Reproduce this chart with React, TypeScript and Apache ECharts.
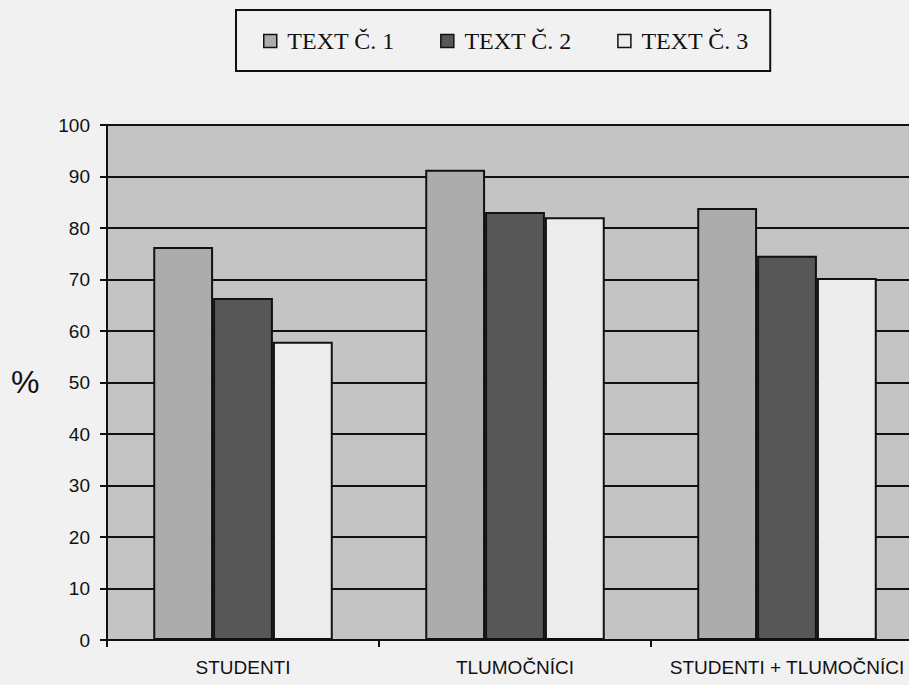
import React, { useEffect, useRef } from "react";
import * as echarts from "echarts";

const categories = ["STUDENTI", "TLUMOČNÍCI", "STUDENTI + TLUMOČNÍCI"];
const seriesNames = ["TEXT Č. 1", "TEXT Č. 2", "TEXT Č. 3"];
const text1 = [76.3, 91.3, 83.9];
const text2 = [66.4, 83.1, 74.6];
const text3 = [57.9, 82.1, 70.3];
const colors = ["#acacac", "#575757", "#ececec"];

export default function App() {
  const ref = useRef<HTMLDivElement>(null);
  useEffect(() => {
    if (!ref.current) return;
    const chart = echarts.init(ref.current, undefined, { renderer: "svg" });
    const data = [text1, text2, text3];
    chart.setOption({
      animation: false,
      backgroundColor: "#f1f1f1",
      legend: {
        left: 236,
        top: 10,
        padding: [19, 21, 18, 27],
        borderColor: "#111",
        borderWidth: 2,
        itemWidth: 13,
        itemHeight: 13,
        itemGap: 45,
        icon: "rect",
        formatter: (n: string) => " " + n,
        itemStyle: { borderColor: "#111", borderWidth: 1.5 },
        textStyle: { fontFamily: "Liberation Serif", fontSize: 24, color: "#111" },
        data: seriesNames,
      },
      grid: {
        left: 107,
        top: 125,
        width: 816,
        height: 515,
        show: true,
        backgroundColor: "#c4c4c4",
        borderWidth: 0,
        containLabel: false,
        outerBoundsMode: "none",
      },
      graphic: [
        {
          type: "text",
          left: 11,
          top: 366,
          style: { text: "%", fontFamily: "Liberation Sans", fontSize: 32, fill: "#111" },
        },
      ],
      xAxis: {
        type: "category",
        data: categories,
        axisLine: { lineStyle: { color: "#111", width: 2 } },
        axisTick: { show: true, length: 7, lineStyle: { color: "#111", width: 2 } },
        axisLabel: {
          margin: 18,
          fontFamily: "Liberation Sans",
          fontSize: 19,
          color: "#111",
          interval: 0,
        },
      },
      yAxis: {
        type: "value",
        min: 0,
        max: 100,
        interval: 10,
        axisLine: { show: true, lineStyle: { color: "#111", width: 2 } },
        axisTick: { show: true, length: 7, lineStyle: { color: "#111", width: 2 } },
        axisLabel: { margin: 17, fontFamily: "Liberation Sans", fontSize: 19, color: "#111" },
        splitLine: { show: true, lineStyle: { color: "#111", width: 2 } },
      },
      series: seriesNames.map((name, i) => ({
        name,
        type: "bar",
        data: data[i],
        barGap: "0%",
        barCategoryGap: "34%",
        itemStyle: { color: colors[i], borderColor: "#111", borderWidth: 2 },
      })),
    });
    return () => chart.dispose();
  }, []);
  return (
    <div
      ref={ref}
      style={{ position: "fixed", left: 0, top: 0, width: 909, height: 685 }}
    />
  );
}
